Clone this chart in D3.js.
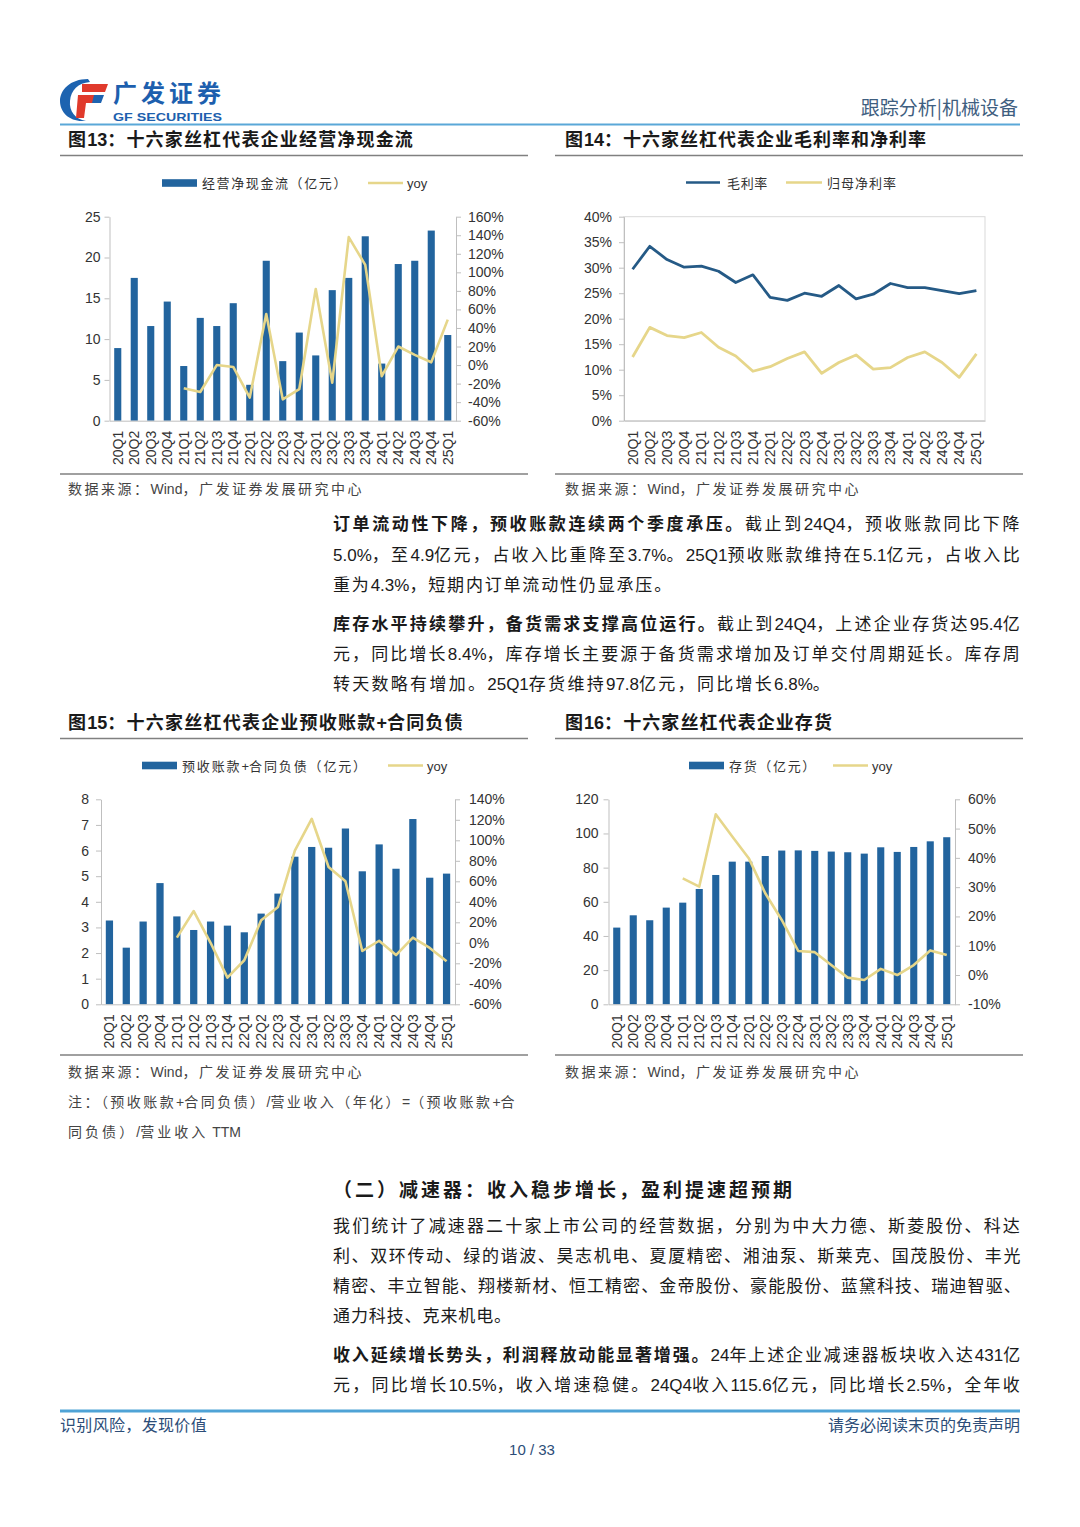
<!DOCTYPE html>
<html><head><meta charset="utf-8">
<script src="https://cdn.jsdelivr.net/npm/d3@7"></script>
<style>html,body{margin:0;padding:0;background:#fff}svg{display:block}</style>
</head><body>
<svg id="page" width="1080" height="1527"></svg>
<script>
// ---------------- DATA ----------------
const categories = ["20Q1","20Q2","20Q3","20Q4","21Q1","21Q2","21Q3","21Q4","22Q1","22Q2","22Q3","22Q4","23Q1","23Q2","23Q3","23Q4","24Q1","24Q2","24Q3","24Q4","25Q1"];

// 图13 经营净现金流（亿元）与 yoy（%）
const cashFlow    = [8.9,17.5,11.6,14.6,6.7,12.6,11.6,14.4,4.4,19.6,7.3,10.8,8.0,16.0,17.5,22.6,7.0,19.2,19.6,23.3,10.5];
const cashFlowYoy = [null,null,null,null,-25,-29,0,-2,-35,55,-37,-26,82,-19,138,108,-12,20,11,3,49];
const cashTicks    = [0,5,10,15,20,25];
const cashYoyTicks = [-60,-40,-20,0,20,40,60,80,100,120,140,160];

// 图14 毛利率 / 归母净利率（%）
const grossMargin = [29.7,34.2,31.6,30.1,30.3,29.3,27.1,28.6,24.2,23.6,25.0,24.4,26.5,23.9,24.8,26.9,26.1,26.1,25.5,24.9,25.5];
const netMargin   = [12.5,18.3,16.7,16.3,17.3,14.4,12.7,9.7,10.6,12.2,13.5,9.3,11.4,12.9,10.1,10.4,12.4,13.5,11.4,8.5,13.1];
const marginTicks = [0,5,10,15,20,25,30,35,40];

// 图15 预收账款+合同负债（亿元）与 yoy（%）
const advance    = [3.27,2.21,3.23,4.73,3.43,2.90,3.23,3.07,2.81,3.54,4.32,5.76,6.14,6.11,6.86,5.19,6.24,5.29,7.23,4.94,5.10];
const advanceYoy = [null,null,null,null,5,31,0,-34,-17,22,35,90,121,74,60,-8,2,-12,5,-5,-18];
const advTicks    = [0,1,2,3,4,5,6,7,8];
const advYoyTicks = [-60,-40,-20,0,20,40,60,80,100,120,140];

// 图16 存货（亿元）与 yoy（%）
const inventory    = [44.9,52.1,49.2,56.6,59.5,67.5,75.7,83.5,83.5,86.8,90.0,90.1,89.8,89.4,89.0,88.2,91.9,89.2,92.1,95.4,97.8];
const inventoryYoy = [null,null,null,null,33,30.2,54.9,47.3,39.9,27.9,18.8,8.2,7.8,3.4,-0.9,-1.7,2.1,0,3.4,8.4,6.8];
const invTicks    = [0,20,40,60,80,100,120];
const invYoyTicks = [-10,0,10,20,30,40,50,60];

// ---------------- STYLE ----------------
const FONT = '"Liberation Sans","Noto Sans CJK SC",sans-serif';
const CJK = '"Noto Sans CJK SC","Liberation Sans",sans-serif';
const BAR = "#22649e";
const YEL = "#e6d68a";
const DBLUE = "#255a86";
const AXIS = "#bfbfbf";
const TICKTXT = "#333";

const svg = d3.select("#page");
svg.append("rect").attr("width",1080).attr("height",1527).attr("fill","#fff");

const CJK_RE = /[\u2E80-\u9FFF\u3000-\u303F\uFF00-\uFFEF]/;
function splitRuns(s) {
  const runs = [];
  for (const ch of s) {
    const c = CJK_RE.test(ch);
    if (runs.length && runs[runs.length - 1].c === c) runs[runs.length - 1].s += ch;
    else runs.push({s: ch, c});
  }
  return runs;
}

function txt(x, y, parts, o = {}) {
  const t = svg.append("text").attr("x", x).attr("y", y)
    .attr("font-family", o.family || FONT)
    .attr("font-size", (o.size || 17) + "px")
    .attr("fill", o.fill || "#1a1a1a")
    .attr("text-anchor", o.anchor || "start");
  if (typeof parts === "string") parts = [{t: parts}];
  const cjkSpans = [];
  let n = 0;
  parts.forEach(p => {
    splitRuns(p.t).forEach(r => {
      const ts = t.append("tspan").text(r.s).attr("font-weight", (p.b || o.bold) ? "bold" : "normal");
      if (r.c) { cjkSpans.push(ts); n += [...r.s].length; }
    });
  });
  if (o.width && n > 0) {
    const natural = t.node().getComputedTextLength();
    const ls = (o.width - natural) / n;
    cjkSpans.forEach(ts => ts.style("letter-spacing", ls + "px"));
  }
  return t;
}

// ---------------- HEADER ----------------
const logo = svg.append("g");
logo.append("path").attr("d","M88,79 C70,79 60,90 60,101 C60,112 69,121 82,121 L86,121 C75,119 69,111 70,101 C71,90 78,83 90,82 Z").attr("fill","#1d63b0");
logo.append("path").attr("d","M82,84 L108,84 L105,92 L82,92 Z").attr("fill","#e03a2c");
logo.append("path").attr("d","M78,95 L101,95 L98,103 L86,103 L84,118 L76,118 Z").attr("fill","#e03a2c");
logo.append("path").attr("d","M94,95 L104,95 L101,103 L92,103 Z").attr("fill","#1d63b0");
txt(113, 102, "广发证券", {size: 24, bold: true, fill: "#1d5fae", family: CJK, width: 112});
svg.append("text").attr("x", 113).attr("y", 121).text("GF SECURITIES")
  .attr("font-family", FONT).attr("font-size", "11px").attr("font-weight", "bold").attr("fill", "#1d5fae")
  .attr("textLength", 109).attr("lengthAdjust", "spacingAndGlyphs");
txt(1018, 115, "跟踪分析|机械设备", {size: 19, fill: "#3e5e80", anchor: "end", family: CJK});
svg.append("line").attr("x1",60).attr("x2",1020).attr("y1",124.5).attr("y2",124.5).attr("stroke","#5aa8d8").attr("stroke-width",2);

// ---------------- FIGURE FRAMES ----------------
function figTitle(x, y, s, w) { txt(x, y, s, {size: 18, bold: true, family: FONT, width: w, fill: "#1a1a1a"}); }
function hline(x1, x2, y, c = "#808080", w = 1.5) {
  svg.append("line").attr("x1",x1).attr("x2",x2).attr("y1",y).attr("y2",y).attr("stroke",c).attr("stroke-width",w);
}
figTitle(68, 146, "图13：十六家丝杠代表企业经营净现金流", 346);
figTitle(565, 146, "图14：十六家丝杠代表企业毛利率和净利率", 362);
hline(60, 528, 155.5); hline(555, 1023, 155.5);
hline(60, 528, 474); hline(555, 1023, 474);
figTitle(68, 729, "图15：十六家丝杠代表企业预收账款+合同负债", 396);
figTitle(565, 729, "图16：十六家丝杠代表企业存货", 268);
hline(60, 528, 738.5); hline(555, 1023, 738.5);
hline(60, 528, 1055); hline(555, 1023, 1055);

const SRC = "数据来源：Wind，广发证券发展研究中心";
txt(68, 494, SRC, {size: 14, fill: "#444", width: 296});
txt(565, 494, SRC, {size: 14, fill: "#444", width: 296});
txt(68, 1077, SRC, {size: 14, fill: "#444", width: 296});
txt(565, 1077, SRC, {size: 14, fill: "#444", width: 296});
txt(68, 1107, "注：（预收账款+合同负债）/营业收入（年化）=（预收账款+合", {size: 14, fill: "#444", width: 449});
txt(68, 1137, "同负债）/营业收入 TTM", {size: 14, fill: "#444", width: 173});

// ---------------- CHART HELPERS ----------------
function styleAxis(g) {
  g.select(".domain").attr("stroke", AXIS).attr("stroke-width", 1);
  g.selectAll(".tick line").attr("stroke", AXIS);
  g.selectAll(".tick text").attr("fill", TICKTXT).attr("font-size", "14px").attr("font-family", FONT);
}

function xAxis(x, yPos) {
  const g = svg.append("g").attr("transform", `translate(0,${yPos})`).call(d3.axisBottom(x).tickSize(0));
  g.select(".domain").attr("stroke", AXIS);
  g.selectAll(".tick text")
    .attr("x", -10).attr("y", 0).attr("dy", "0.36em")
    .attr("transform", "rotate(-90)").attr("text-anchor", "end")
    .attr("fill", TICKTXT).attr("font-size", "14px").attr("font-family", FONT);
}

function comboChart(c) {
  const x = d3.scaleBand().domain(categories).range([c.left, c.right]).paddingInner(0.57).paddingOuter(0.285);
  const y = d3.scaleLinear().domain(c.yDomain).range([c.bottom, c.top]);
  const y2 = d3.scaleLinear().domain(c.y2Domain).range([c.bottom, c.top]);

  svg.append("g").selectAll("rect").data(c.bars).join("rect")
    .attr("x", (d, i) => x(categories[i]))
    .attr("width", x.bandwidth())
    .attr("y", d => y(d))
    .attr("height", d => y(0) - y(d))
    .attr("fill", BAR);

  const line = d3.line().defined(d => d != null)
    .x((d, i) => x(categories[i]) + x.bandwidth() / 2)
    .y(d => y2(d));
  svg.append("path").datum(c.line).attr("d", line)
    .attr("fill", "none").attr("stroke", YEL).attr("stroke-width", 2.6).attr("stroke-linejoin", "round");

  const gl = svg.append("g").attr("transform", `translate(${c.left},0)`)
    .call(d3.axisLeft(y).tickValues(c.yTicks).tickSize(5).tickPadding(c.lPad).tickSizeOuter(0));
  styleAxis(gl);
  const gr = svg.append("g").attr("transform", `translate(${c.right},0)`)
    .call(d3.axisRight(y2).tickValues(c.y2Ticks).tickSize(5).tickPadding(c.rPad).tickSizeOuter(0).tickFormat(d => d + "%"));
  styleAxis(gr);
  xAxis(x, c.bottom);
}

// ---------------- CHART 13 ----------------
comboChart({left: 109.5, right: 456, top: 216.7, bottom: 420.7,
  bars: cashFlow, line: cashFlowYoy, yDomain: [0, 25], y2Domain: [-60, 160],
  yTicks: cashTicks, y2Ticks: cashYoyTicks, lPad: 4, rPad: 7});

// ---------------- CHART 14 ----------------
(function () {
  const left = 624, right = 985, top = 216.7, bottom = 420.7;
  const x = d3.scaleBand().domain(categories).range([left, right]);
  const y = d3.scaleLinear().domain([0, 40]).range([bottom, top]);
  svg.append("rect").attr("x", left).attr("y", top).attr("width", right - left).attr("height", bottom - top)
    .attr("fill", "none").attr("stroke", "#d9d9d9").attr("stroke-width", 1);
  const gl = svg.append("g").attr("transform", `translate(${left},0)`)
    .call(d3.axisLeft(y).tickValues(marginTicks).tickSize(5).tickPadding(7).tickSizeOuter(0).tickFormat(d => d + "%"));
  styleAxis(gl);
  xAxis(x, bottom);
  const line = d3.line().x((d, i) => x(categories[i]) + x.bandwidth() / 2).y(d => y(d));
  svg.append("path").datum(netMargin).attr("d", line).attr("fill", "none").attr("stroke", YEL).attr("stroke-width", 2.8).attr("stroke-linejoin", "round");
  svg.append("path").datum(grossMargin).attr("d", line).attr("fill", "none").attr("stroke", DBLUE).attr("stroke-width", 2.8).attr("stroke-linejoin", "round");
})();

// ---------------- CHART 15 ----------------
comboChart({left: 101, right: 455, top: 799.3, bottom: 1004.3,
  bars: advance, line: advanceYoy, yDomain: [0, 8], y2Domain: [-60, 140],
  yTicks: advTicks, y2Ticks: advYoyTicks, lPad: 7, rPad: 9});

// ---------------- CHART 16 ----------------
comboChart({left: 608.5, right: 955, top: 799.3, bottom: 1004.3,
  bars: inventory, line: inventoryYoy, yDomain: [0, 120], y2Domain: [-10, 60],
  yTicks: invTicks, y2Ticks: invYoyTicks, lPad: 5, rPad: 8});

// ---------------- LEGENDS ----------------
function legRect(x1, x2, y) { svg.append("rect").attr("x", x1).attr("y", y - 3.8).attr("width", x2 - x1).attr("height", 7.6).attr("fill", BAR); }
function legLine(x1, x2, y, c) { svg.append("line").attr("x1", x1).attr("x2", x2).attr("y1", y).attr("y2", y).attr("stroke", c).attr("stroke-width", 2.6); }
function legText(x, y, s, w) { txt(x, y + 5, s, {size: 13, fill: "#333", width: w}); }

legRect(162, 197, 183); legText(202, 183, "经营净现金流（亿元）", 146);
legLine(368, 403, 183, YEL); legText(407, 183, "yoy");

legLine(686, 720, 182.5, DBLUE); legText(727, 182.5, "毛利率", 41);
legLine(786, 822, 182.5, YEL); legText(827, 182.5, "归母净利率", 70);

legRect(142, 177, 765.5); legText(182, 765.5, "预收账款+合同负债（亿元）", 186);
legLine(388, 423, 765.5, YEL); legText(427, 765.5, "yoy");

legRect(689, 724, 765.5); legText(729, 765.5, "存货（亿元）", 88);
legLine(833, 868, 765.5, YEL); legText(872, 765.5, "yoy");

// ---------------- BODY TEXT ----------------
const BX = 333, BW = 689;
txt(BX, 530, [{t: "订单流动性下降，预收账款连续两个季度承压。", b: true}, {t: "截止到24Q4，预收账款同比下降"}], {width: BW});
txt(BX, 561, "5.0%，至4.9亿元，占收入比重降至3.7%。25Q1预收账款维持在5.1亿元，占收入比", {width: BW});
txt(BX, 591, "重为4.3%，短期内订单流动性仍显承压。", {width: 340});

txt(BX, 630, [{t: "库存水平持续攀升，备货需求支撑高位运行。", b: true}, {t: "截止到24Q4，上述企业存货达95.4亿"}], {width: BW});
txt(BX, 660, "元，同比增长8.4%，库存增长主要源于备货需求增加及订单交付周期延长。库存周", {width: BW});
txt(BX, 690, "转天数略有增加。25Q1存货维持97.8亿元，同比增长6.8%。", {width: 499});

txt(BX, 1197, "（二）减速器：收入稳步增长，盈利提速超预期", {size: 19, bold: true, width: 462});

txt(BX, 1232, "我们统计了减速器二十家上市公司的经营数据，分别为中大力德、斯菱股份、科达", {width: BW});
txt(BX, 1262, "利、双环传动、绿的谐波、昊志机电、夏厦精密、湘油泵、斯莱克、国茂股份、丰光", {width: BW});
txt(BX, 1292, "精密、丰立智能、翔楼新材、恒工精密、金帝股份、豪能股份、蓝黛科技、瑞迪智驱、", {width: BW});
txt(BX, 1322, "通力科技、克来机电。", {width: 179});

txt(BX, 1361, [{t: "收入延续增长势头，利润释放动能显著增强。", b: true}, {t: "24年上述企业减速器板块收入达431亿"}], {width: BW});
txt(BX, 1391, "元，同比增长10.5%，收入增速稳健。24Q4收入115.6亿元，同比增长2.5%，全年收", {width: BW});

// ---------------- FOOTER ----------------
svg.append("line").attr("x1", 60).attr("x2", 1020).attr("y1", 1411).attr("y2", 1411).attr("stroke", "#4fa3d6").attr("stroke-width", 3);
txt(60, 1431, "识别风险，发现价值", {size: 16, fill: "#2c4d78", family: CJK, width: 147});
txt(1020, 1431, "请务必阅读末页的免责声明", {size: 16, fill: "#2c4d78", family: CJK, anchor: "end"});
txt(532, 1455, "10 / 33", {size: 15, fill: "#2c4d78", anchor: "middle"});
</script>
</body></html>
